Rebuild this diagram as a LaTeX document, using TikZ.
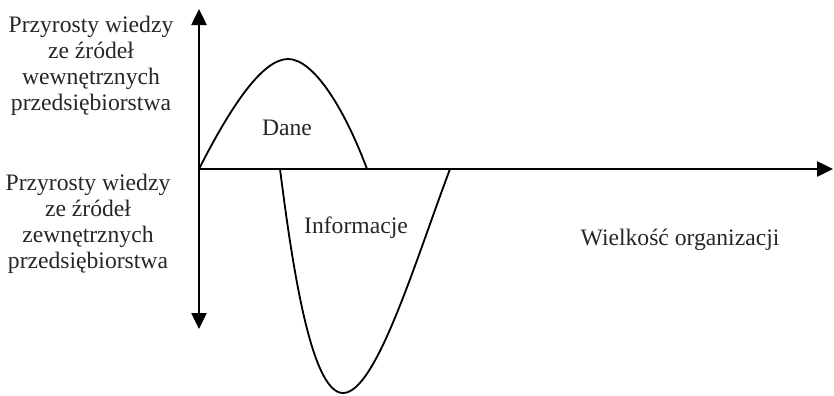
\documentclass[tikz,border=0pt]{standalone}
\usepackage{fontspec}
\setmainfont{Liberation Serif}
\usetikzlibrary{arrows.meta, positioning}

\begin{document}
\begin{tikzpicture}[
        x=0.025cm, y=-0.025cm,
        axis/.style={line width=1.3pt, -{Triangle[length=0.4cm, width=0.38cm]}},
        wave/.style={line width=1.3pt},
        label/.style={align=center, inner sep=0pt, text=black!85, font=\fontsize{16.8}{18.4}\selectfont}
    ]
        \useasboundingbox (0,0) rectangle (834,395);

        % Axes
        \coordinate (origin) at (199,169);
        \coordinate (top) at (199,9);
        \coordinate (bottom) at (199,329);
        \coordinate (right) at (833,169);
        \draw[axis] (origin) -- (top);
        \draw[axis] (origin) -- (bottom);
        \draw[axis] (origin) -- (right);

        % Curves
        \coordinate (peak) at (288,59);
        \coordinate (trough) at (343,393);
        \draw[wave] (origin) .. controls (230,108) and (262,59) .. (peak)
            .. controls (314,59) and (345,110) .. (367,169);
        \draw[wave] (280,169) .. controls (291,255) and (310,393) .. (trough)
            .. controls (376,393) and (415,262) .. (450,169);

        % Labels
        \node[label] (inner) at (91,66) {Przyrosty wiedzy\\ze źródeł\\wewnętrznych\\przedsiębiorstwa};
        \node[label] (outer) at (88,224) {Przyrosty wiedzy\\ze źródeł\\zewnętrznych\\przedsiębiorstwa};
        \node[label] (dane) at (287,128) {Dane};
        \node[label] (info) at (356,228) {Informacje};
        \node[label] (size) at (680,240) {Wielkość organizacji};
    \end{tikzpicture}
\end{document}
